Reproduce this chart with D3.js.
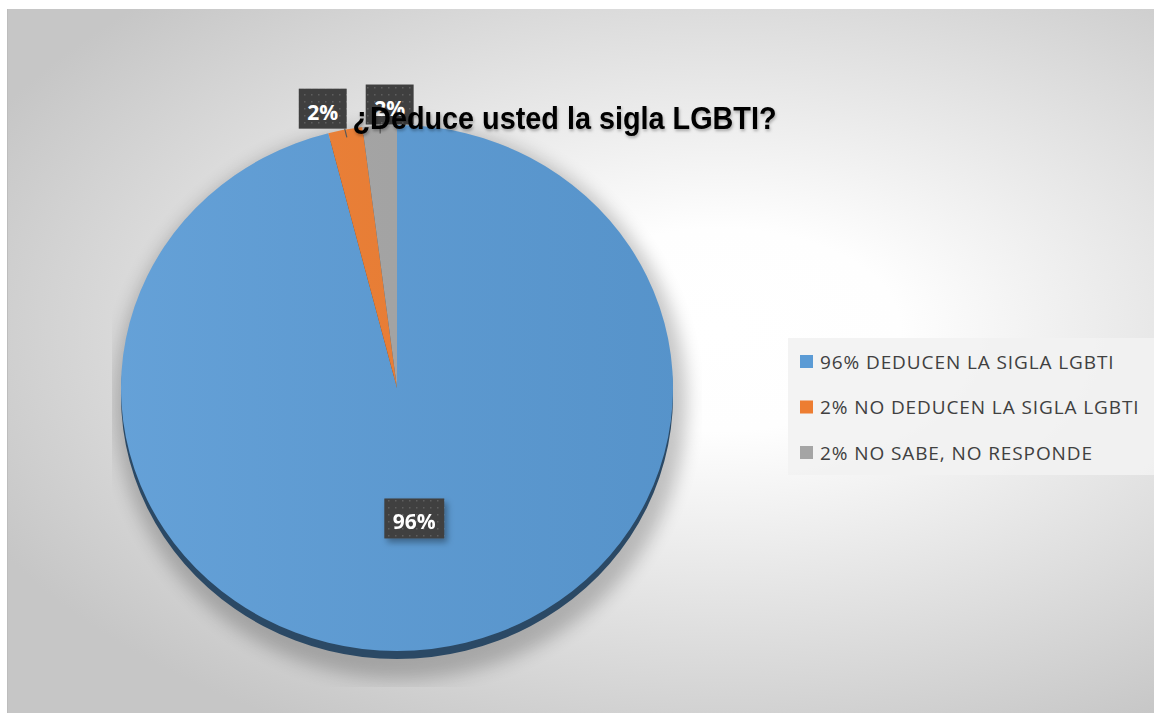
<!DOCTYPE html>
<html>
<head>
<meta charset="utf-8">
<script src="https://cdn.jsdelivr.net/npm/d3@7"></script>
<style>
  body { margin: 0; background: #ffffff; }
</style>
</head>
<body>
<div id="chart"></div>
<script>
// data
const categories = ["96% DEDUCEN LA SIGLA LGBTI", "2% NO DEDUCEN LA SIGLA LGBTI", "2% NO SABE, NO RESPONDE"];
const values = [96, 2, 2];
const valueLabels = ["96%", "2%", "2%"];
const colors = ["#5b9bd5", "#ed7d31", "#a5a5a5"];
const titleText = "¿Deduce usted la sigla LGBTI?";

const width = 1154, height = 715;
const frame = { x: 7, y: 9, w: 1147, h: 704 };
const pieBox = { cx: 397, cy: 388, rx: 276, ry: 263, depth: 8 };
const plotClip = { x: 112, y: 20, w: 590, h: 667 };
const legendBox = { x: 788, y: 338, w: 366, h: 137 };

const svg = d3.select("#chart").append("svg")
    .attr("width", width)
    .attr("height", height)
    .style("display", "block");

const defs = svg.append("defs");

// chart background gradient
const bg = defs.append("radialGradient")
    .attr("id", "bg-grad")
    .attr("gradientUnits", "userSpaceOnUse")
    .attr("cx", 720).attr("cy", 330).attr("r", 1)
    .attr("gradientTransform", "translate(720,330) scale(820,460) translate(-720,-330)");
bg.append("stop").attr("offset", "0").attr("stop-color", "#ffffff");
bg.append("stop").attr("offset", "0.22").attr("stop-color", "#fefefe");
bg.append("stop").attr("offset", "1").attr("stop-color", "#c6c6c6");

const sh = defs.append("filter").attr("id", "pie-shadow")
    .attr("x", "-20%").attr("y", "-20%").attr("width", "140%").attr("height", "140%");
sh.append("feGaussianBlur").attr("stdDeviation", 9);

const lblShadow = defs.append("filter").attr("id", "lbl-shadow")
    .attr("x", "-30%").attr("y", "-30%").attr("width", "170%").attr("height", "170%");
lblShadow.append("feDropShadow").attr("dx", 3).attr("dy", 4)
    .attr("stdDeviation", 3).attr("flood-color", "#000").attr("flood-opacity", 0.35);

const titleShadow = defs.append("filter").attr("id", "title-shadow")
    .attr("x", "-10%").attr("y", "-30%").attr("width", "120%").attr("height", "160%");
titleShadow.append("feDropShadow").attr("dx", 1).attr("dy", 2)
    .attr("stdDeviation", 1.5).attr("flood-color", "#000").attr("flood-opacity", 0.3);

// dotted fill of the data label boxes
const dots = defs.append("pattern").attr("id", "dots")
    .attr("patternUnits", "userSpaceOnUse").attr("width", 7).attr("height", 7);
dots.append("rect").attr("width", 7).attr("height", 7).attr("fill", "#3f3f3f");
dots.append("rect").attr("x", 3).attr("y", 3).attr("width", 1.5).attr("height", 1.5).attr("fill", "#5e5e5e");

const shade = defs.append("linearGradient").attr("id", "pie-shade")
    .attr("x1", "0").attr("x2", "1").attr("y1", "0").attr("y2", "0");
shade.append("stop").attr("offset", "0").attr("stop-color", "#fff").attr("stop-opacity", 0.06);
shade.append("stop").attr("offset", "1").attr("stop-color", "#000").attr("stop-opacity", 0.05);

defs.append("clipPath").attr("id", "plot-clip")
    .append("rect")
    .attr("x", plotClip.x).attr("y", plotClip.y)
    .attr("width", plotClip.w).attr("height", plotClip.h);

svg.append("rect")
    .attr("x", frame.x).attr("y", frame.y)
    .attr("width", frame.w).attr("height", frame.h)
    .attr("fill", "url(#bg-grad)");
svg.append("line")
    .attr("x1", frame.x + 0.5).attr("x2", frame.x + 0.5)
    .attr("y1", frame.y).attr("y2", frame.y + frame.h)
    .attr("stroke", "#bdbdbd");

// pie
const pie = d3.pie().sort(null).value(d => d)(values);
const k = pieBox.ry / pieBox.rx;
const arc = d3.arc().innerRadius(0).outerRadius(pieBox.rx);

// soft shadow behind the pie, cut off at the plot area
svg.append("g").attr("clip-path", "url(#plot-clip)")
  .append("ellipse")
    .attr("cx", pieBox.cx + 4).attr("cy", pieBox.cy + 14)
    .attr("rx", pieBox.rx + 10).attr("ry", pieBox.ry + 14)
    .attr("fill", "#000").attr("opacity", 0.22)
    .attr("filter", "url(#pie-shadow)");

// 3d side
svg.append("g")
    .attr("transform", `translate(${pieBox.cx},${pieBox.cy + pieBox.depth}) scale(1,${k})`)
  .selectAll("path.side")
  .data(pie)
  .join("path")
    .attr("class", "side")
    .attr("d", arc)
    .attr("fill", (d, i) => d3.color(colors[i]).darker(2.1));

// top face
const topFace = svg.append("g")
    .attr("transform", `translate(${pieBox.cx},${pieBox.cy}) scale(1,${k})`);

topFace.selectAll("path.slice")
  .data(pie)
  .join("path")
    .attr("class", "slice")
    .attr("d", arc)
    .attr("fill", (d, i) => colors[i]);

topFace.append("circle")
    .attr("r", pieBox.rx)
    .attr("fill", "url(#pie-shade)");

// data labels
const labelG = svg.append("g");
const labels = pie.map((d, i) => {
  const mid = (d.startAngle + d.endAngle) / 2;
  const inside = (d.endAngle - d.startAngle) > Math.PI / 2;
  let px, py, edge;
  if (inside) {
    const c = arc.centroid(d);
    px = pieBox.cx + c[0];
    py = pieBox.cy + c[1] * k;
  } else {
    px = pieBox.cx + pieBox.rx * Math.sin(mid);
    py = pieBox.cy - pieBox.ry * Math.cos(mid);
    edge = [pieBox.cx + pieBox.rx * 0.97 * Math.sin(mid), pieBox.cy - pieBox.ry * 0.97 * Math.cos(mid)];
  }
  return { i, inside, px, py, edge, text: valueLabels[i] };
});

labels.forEach(l => {
  const g = labelG.append("g").attr("filter", l.inside ? "url(#lbl-shadow)" : null);
  const t = g.append("text")
      .attr("font-family", "'Open Sans', sans-serif")
      .attr("font-weight", 700)
      .attr("font-size", 21)
      .attr("fill", "#ffffff")
      .attr("text-anchor", "middle")
      .text(l.text);
  l.w = t.node().getComputedTextLength() + 17;
  l.h = 40;
  l.g = g; l.t = t;
  if (l.inside) {
    l.x = l.px - l.w / 2;
    l.y = l.py - l.h / 2;
  } else {
    l.x = l.px - l.w / 2 + 10;
    l.y = l.py - l.h - 1;
  }
});

// push outside labels apart, moving leftwards
const outside = labels.filter(l => !l.inside).sort((a, b) => b.x - a.x);
for (let j = 1; j < outside.length; j++) {
  const right = outside[j - 1], cur = outside[j];
  if (cur.x + cur.w > right.x - 19) cur.x = right.x - 19 - cur.w;
}

labels.forEach(l => {
  if (!l.inside) {
    const bx = Math.min(Math.max(l.edge[0], l.x + 2), l.x + l.w - 2);
    labelG.insert("line", ":first-child")
        .attr("x1", l.edge[0]).attr("y1", l.edge[1])
        .attr("x2", bx).attr("y2", l.y + l.h)
        .attr("stroke", "#595959").attr("stroke-width", 1.2);
  }
  l.g.insert("rect", "text")
      .attr("x", l.x).attr("y", l.y)
      .attr("width", l.w).attr("height", l.h)
      .attr("fill", "url(#dots)");
  l.t.attr("x", l.x + l.w / 2).attr("y", l.y + 31);
});

// title on top of the labels
svg.append("text")
    .attr("transform", `translate(${frame.x + frame.w / 2 - 16},129) scale(0.9,1)`)
    .attr("text-anchor", "middle")
    .attr("font-family", "'Liberation Sans', Arial, sans-serif")
    .attr("font-weight", 700)
    .attr("font-size", 32)
    .attr("fill", "#000000")
    .attr("filter", "url(#title-shadow)")
    .text(titleText);

// legend
const legend = svg.append("g");
legend.append("rect")
    .attr("x", legendBox.x).attr("y", legendBox.y)
    .attr("width", legendBox.w).attr("height", legendBox.h)
    .attr("fill", "#f2f2f2").attr("opacity", 0.9);

const item = legend.selectAll("g.item")
  .data(categories)
  .join("g")
    .attr("class", "item")
    .attr("transform", (d, i) => `translate(${legendBox.x + 12},${legendBox.y + 17 + i * 45.5})`);

item.append("rect")
    .attr("width", 13).attr("height", 13)
    .attr("fill", (d, i) => colors[i]);

item.append("text")
    .attr("x", 20).attr("y", 13.5)
    .attr("font-family", "'Open Sans', sans-serif")
    .attr("font-size", 19)
    .attr("letter-spacing", 0.9)
    .attr("fill", "#404040")
    .text(d => d);
</script>
</body>
</html>
